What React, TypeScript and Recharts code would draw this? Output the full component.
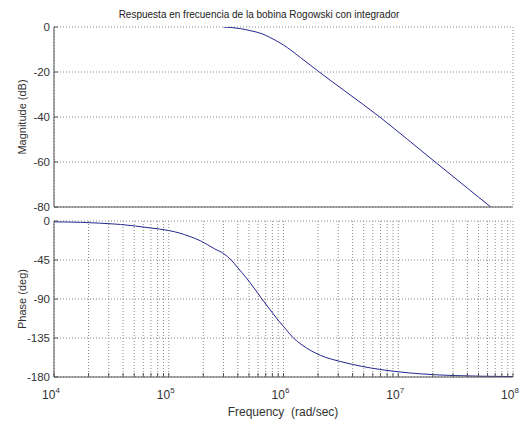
import React from 'react';
import { LineChart, Line, XAxis, YAxis, CartesianGrid } from 'recharts';

const TITLE = 'Respuesta en frecuencia de la bobina Rogowski con integrador';
const X_LABEL = 'Frequency  (rad/sec)';
const MAG_LABEL = 'Magnitude (dB)';
const PHASE_LABEL = 'Phase (deg)';

const decades = [1e4, 1e5, 1e6, 1e7, 1e8];
const exponents = [4, 5, 6, 7, 8];
const magTicks = [-80, -60, -40, -20, 0];
const phaseTicks = [-180, -135, -90, -45, 0];

const magFreq = [3.0e5, 4.2e5, 5.1e5, 6.5e5, 7.6e5, 1.0e6, 1.4e6, 2.05e6, 3.5e6, 6.9e6, 1.2e7, 2.1e7, 4.0e7, 6.4e7];
const magDb = [0, -0.7, -1.6, -3, -4.6, -8, -13.5, -20, -28.8, -40, -49.9, -60, -71.6, -80];

const phaseFreq = [1e4, 1.7e4, 2.5e4, 3.8e4, 6.9e4, 1.0e5, 1.25e5, 1.5e5, 1.9e5, 2.5e5, 3.0e5, 3.5e5, 4.0e5, 4.7e5, 6.5e5, 8.8e5, 1.05e6, 1.2e6, 1.45e6, 2.1e6, 3.1e6, 4.0e6, 5.7e6, 1.0e7, 1.55e7, 3.0e7, 1.0e8];
const phaseDeg = [-1, -1.5, -2.5, -4, -8, -11, -14, -17.5, -23, -32, -37.5, -45, -54, -65, -90, -113, -125, -134, -143, -155, -162, -165.5, -169.5, -174, -176.3, -178.3, -179.5];

const minorMult = [1, 2, 3, 4, 5, 6, 7, 8, 9];
const freqTicks = decades.flatMap((d, i) => (i === decades.length - 1 ? [d] : minorMult.map((m) => m * d)));

const magData = magFreq.map((f, i) => ({ f, v: magDb[i] }));
const phaseData = phaseFreq.map((f, i) => ({ f, v: phaseDeg[i] }));

const FONT = '"Liberation Sans", Arial, Helvetica, sans-serif';
const TEXT = '#333';
const FRAME = '#555';
const LINE = '#262690';
const W = 524;

const DecadeTick = (props: any) => {
  const { x, y, payload } = props;
  const i = decades.indexOf(payload.value);
  if (i < 0) return <g />;
  return (
    <text x={x - 3} y={y} textAnchor="middle" fill={TEXT} fontSize={12} fontFamily={FONT}>
      10
      <tspan dy={-6} fontSize={8}>
        {exponents[i]}
      </tspan>
    </text>
  );
};

const Panel = ({ data, yTicks, height, margin, xHeight, showX }: any) => (
  <LineChart width={W} height={height} data={data} margin={margin}>
    <CartesianGrid stroke="#8a8a8a" strokeDasharray="1 2" />
    <XAxis
      dataKey="f"
      type="number"
      scale="log"
      domain={[1e4, 1e8]}
      allowDataOverflow
      ticks={freqTicks}
      interval={0}
      height={xHeight}
      tickSize={-4}
      tickMargin={26}
      tick={showX ? <DecadeTick /> : false}
      stroke={FRAME}
    />
    <XAxis
      xAxisId="t"
      orientation="top"
      type="number"
      scale="log"
      domain={[1e4, 1e8]}
      allowDataOverflow
      ticks={freqTicks}
      interval={0}
      height={0}
      tickSize={-4}
      tick={false}
      stroke={FRAME}
    />
    <YAxis
      type="number"
      domain={[yTicks[0], yTicks[yTicks.length - 1]]}
      allowDataOverflow
      ticks={yTicks}
      interval={0}
      width={54}
      tickSize={-4}
      tickMargin={8}
      stroke={FRAME}
      tick={{ fill: TEXT, fontSize: 11.5, fontFamily: FONT }}
    />
    <YAxis
      yAxisId="r"
      orientation="right"
      type="number"
      domain={[yTicks[0], yTicks[yTicks.length - 1]]}
      allowDataOverflow
      ticks={yTicks}
      interval={0}
      width={0}
      tickSize={-4}
      tick={false}
      stroke={FRAME}
    />
    <Line dataKey="v" type="monotone" stroke={LINE} strokeWidth={1} dot={false} isAnimationActive={false} />
  </LineChart>
);

const label: React.CSSProperties = {
  position: 'absolute',
  fontFamily: FONT,
  fontSize: 11,
  color: TEXT,
  whiteSpace: 'pre',
};

export default function App() {
  return (
    <div style={{ position: 'absolute', left: 0, top: 0, width: W, height: 421, background: '#fff' }}>
      <div style={{ ...label, left: 259, top: 14, fontSize: 10, transform: 'translate(-50%, -50%)', color: '#222' }}>{TITLE}</div>
      <div style={{ position: 'absolute', left: 0, top: 0 }}>
        <Panel data={magData} yTicks={magTicks} height={214} xHeight={7} showX={false} margin={{ top: 27, right: 11, bottom: 0, left: 0 }} />
      </div>
      <div style={{ position: 'absolute', left: 0, top: 214 }}>
        <Panel data={phaseData} yTicks={phaseTicks} height={207} xHeight={44} showX margin={{ top: 7, right: 11, bottom: 0, left: 0 }} />
      </div>
      <div style={{ ...label, left: 22, top: 117, transform: 'translate(-50%, -50%) rotate(-90deg)' }}>{MAG_LABEL}</div>
      <div style={{ ...label, left: 22, top: 299, transform: 'translate(-50%, -50%) rotate(-90deg)' }}>{PHASE_LABEL}</div>
      <div style={{ ...label, left: 283, top: 412, fontSize: 12, transform: 'translate(-50%, -50%)' }}>{X_LABEL}</div>
    </div>
  );
}
